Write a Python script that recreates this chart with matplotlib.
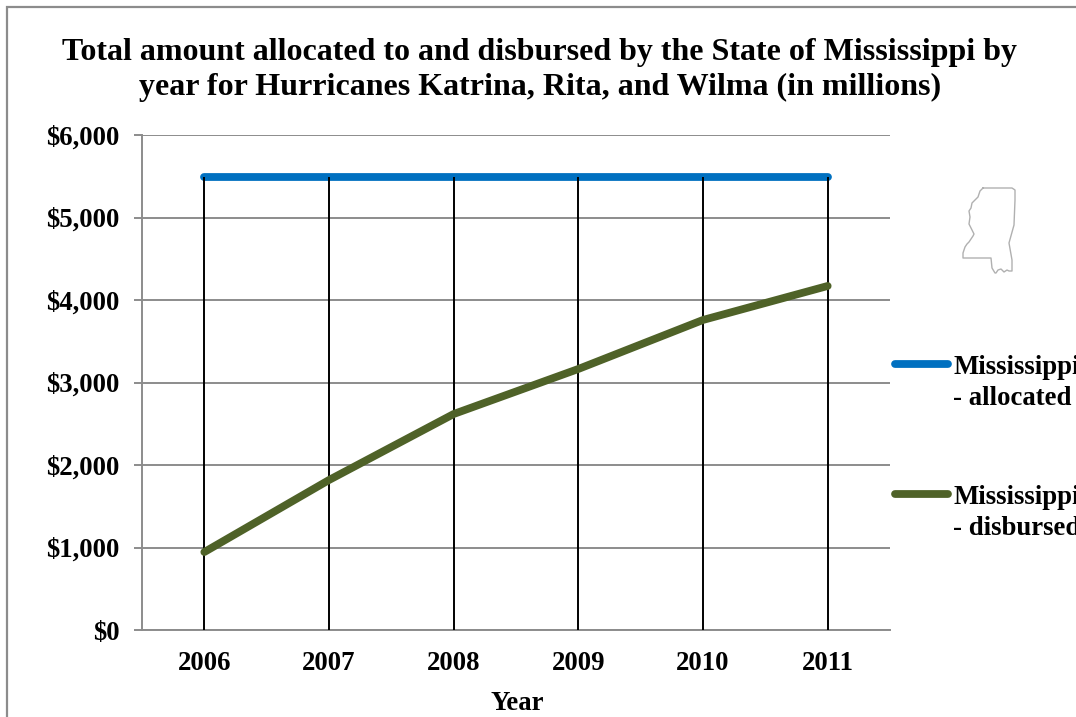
#!/usr/bin/env python
import matplotlib

matplotlib.use("Agg")

import matplotlib.pyplot as plt
from matplotlib.lines import Line2D
from matplotlib.patches import Rectangle

W, H = 1076, 717

TITLE = (
    "Total amount allocated to and disbursed by the State of Mississippi by\n"
    "year for Hurricanes Katrina, Rita, and Wilma (in millions)"
)
YEARS = ["2006", "2007", "2008", "2009", "2010", "2011"]
ALLOCATED = [5485, 5485, 5485, 5485, 5485, 5485]
DISBURSED = [945, 1818, 2618, 3164, 3758, 4170]
Y_TICKS = [0, 1000, 2000, 3000, 4000, 5000, 6000]

BLUE = "#0070C0"
GREEN = "#4F6228"
GREY = "#8C8C8C"

# state outline icon, figure pixels
STATE_X = [983, 1012, 1015, 1015, 1014, 1009, 1012, 1012, 1009, 1007, 1004, 1001, 998, 996, 995, 992, 991,
           963, 963, 965, 967, 969, 973, 974, 971, 969, 970, 969, 971, 972, 975, 978, 979, 980, 983]
STATE_Y = [188, 188, 190, 200, 225, 243, 260, 271, 271, 270, 272, 269, 270, 273, 273, 268, 258,
           258, 253, 247, 244, 242, 236, 234, 228, 224, 217, 211, 208, 203, 200, 197, 194, 191, 188]

plt.rcParams["font.family"] = ["Liberation Serif", "DejaVu Serif"]
plt.rcParams["font.weight"] = "bold"


def fx(x):
    return x / W


def fy(y):
    return 1 - y / H


def main():
    fig = plt.figure(figsize=(W / 100, H / 100), dpi=100)
    ax = fig.add_axes([fx(142), fy(630), (890 - 142) / W, (630 - 135) / H])

    fig.add_artist(Rectangle((fx(7), fy(H + 10)), 1.0, fy(7) - fy(H + 10), transform=fig.transFigure,
                             fill=False, edgecolor=GREY, linewidth=1.6))

    x = list(range(len(YEARS)))
    ax.set_xlim(-0.5, len(YEARS) - 0.5)
    ax.set_ylim(0, 6000)
    ax.set_yticks(Y_TICKS)
    ax.set_yticklabels([f"${v:,}" for v in Y_TICKS], fontsize=19.3, fontweight="bold")
    ax.set_xticks(x)
    ax.set_xticklabels(YEARS, fontsize=19.3, fontweight="bold")
    ax.tick_params(axis="y", length=6, width=1.4, color=GREY, pad=10)
    ax.tick_params(axis="x", length=0, pad=15)
    ax.grid(axis="y", color=GREY, linewidth=1.4)
    ax.set_axisbelow(True)
    for side in ("top", "right"):
        ax.spines[side].set_visible(False)
    for side in ("left", "bottom"):
        ax.spines[side].set_color(GREY)
        ax.spines[side].set_linewidth(1.4)

    # drop lines between the top series and the axis
    ax.vlines(x, 0, ALLOCATED, color="black", linewidth=1.4, zorder=4)
    ax.plot(x, ALLOCATED, color=BLUE, linewidth=5.6, solid_capstyle="round", zorder=3)
    ax.plot(x, DISBURSED, color=GREEN, linewidth=5.6, solid_capstyle="round", zorder=5)

    fig.text(fx(540), fy(70), TITLE, ha="center", va="center", fontsize=23, fontweight="bold",
             linespacing=1.26)
    fig.text(fx(517), fy(703), "Year", ha="center", va="center", fontsize=19.3, fontweight="bold")

    for y, color, label in [(364, BLUE, "Mississippi\n- allocated"), (494, GREEN, "Mississippi\n- disbursed")]:
        fig.add_artist(Line2D([fx(895), fx(948)], [fy(y), fy(y)], transform=fig.transFigure,
                              color=color, linewidth=5.6, solid_capstyle="round"))
        fig.text(fx(953), fy(y + 19), label, ha="left", va="center", fontsize=19.3, fontweight="bold",
                 linespacing=1.33)

    fig.add_artist(Line2D([fx(v) for v in STATE_X], [fy(v) for v in STATE_Y], transform=fig.transFigure,
                          color="#B0B0B0", linewidth=1.0))

    fig.savefig("out.png", dpi=100)
    plt.close(fig)


if __name__ == "__main__":
    main()
